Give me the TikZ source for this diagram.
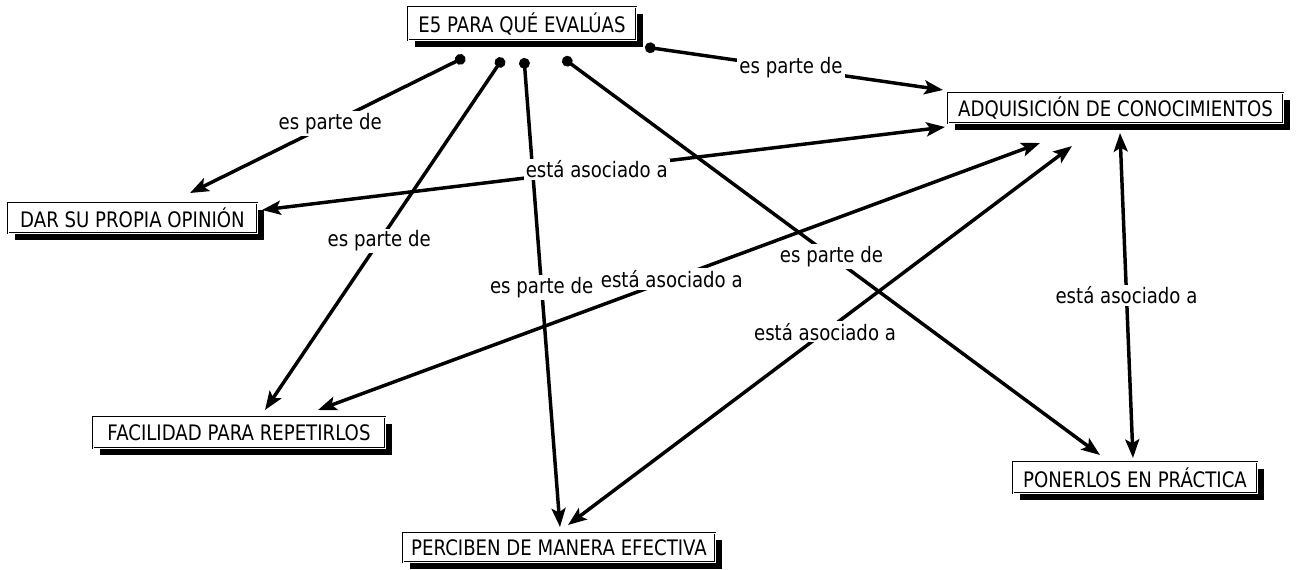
\documentclass[tikz,border=0pt]{standalone}
\usepackage{fontspec}
\setmainfont{DejaVu Sans}[FakeStretch=0.85]
\usetikzlibrary{arrows.meta,shadows}
\begin{document}
\begin{tikzpicture}[x=0.75pt,y=-0.75pt,
  concept/.style={draw=black, double=white, line width=0.5pt, double distance=0.6pt,
    fill=white, inner sep=0pt, align=center,
    font=\fontsize{16}{19}\selectfont,
    drop shadow={shadow xshift=5.5pt, shadow yshift=-5.5pt, fill=black, opacity=1}},
  link/.style={line width=2.6pt, {Circle[length=8pt]}-{Stealth[length=14pt,width=10.5pt,inset=3pt]}},
  assoc/.style={line width=2.6pt, {Stealth[length=14pt,width=10.5pt,inset=3pt]}-{Stealth[length=14pt,width=10.5pt,inset=3pt]}},
  lbl/.style={fill=white, inner sep=1.5pt, font=\fontsize{16}{19}\selectfont}
]
\useasboundingbox[fill=white] (0,0) rectangle (1299,569);

% concepts
\node[concept, minimum width=171pt, minimum height=24.75pt] (e5) at (522,23.5) {E5 PARA QUÉ EVALÚAS};
\node[concept, minimum width=251.25pt, minimum height=22.5pt] (adq) at (1115.5,108) {ADQUISICIÓN DE CONOCIMIENTOS};
\node[concept, minimum width=186.75pt, minimum height=22.5pt] (dar) at (132.5,218) {DAR SU PROPIA OPINIÓN};
\node[concept, minimum width=219pt, minimum height=23.25pt] (fac) at (239,432.5) {FACILIDAD PARA REPETIRLOS};
\node[concept, minimum width=234pt, minimum height=21.75pt] (per) at (559,547.5) {PERCIBEN DE MANERA EFECTIVA};
\node[concept, minimum width=183pt, minimum height=23.25pt] (pon) at (1135,477.5) {PONERLOS EN PRÁCTICA};

% connector end points
\coordinate (s1) at (645,47);  \coordinate (t1) at (943,90);
\coordinate (s2) at (465,57);  \coordinate (t2) at (190,193);
\coordinate (s3) at (503,58);  \coordinate (t3) at (265,410);
\coordinate (s4) at (524,58);  \coordinate (t4) at (560,527);
\coordinate (s5) at (563,58);  \coordinate (t5) at (1100,455);
\coordinate (a6) at (945,127); \coordinate (b6) at (262,210);
\coordinate (a7) at (1040,143);\coordinate (b7) at (318,410);
\coordinate (a8) at (1072,146);\coordinate (b8) at (568,525);
\coordinate (a9) at (1120,133);\coordinate (b9) at (1133,458);

% es parte de
\draw[link] (s1) -- node[lbl, pos=0.49] (l1) {es parte de} (t1);
\draw[link] (s2) -- node[lbl, pos=0.49] (l2) {es parte de} (t2);
\draw[link] (s3) -- node[lbl, pos=0.52] (l3) {es parte de} (t3);
\draw[link] (s4) -- node[lbl, pos=0.49] (l4) {es parte de} (t4);
\draw[link] (s5) -- node[lbl, pos=0.50] (l5) {es parte de} (t5);

% está asociado a
\draw[assoc] (a6) -- node[lbl, pos=0.51] (l6) {está asociado a} (b6);
\draw[assoc] (a7) -- node[lbl, pos=0.51] (l7) {está asociado a} (b7);
\draw[assoc] (a8) -- node[lbl, pos=0.49] (l8) {está asociado a} (b8);
\draw[assoc] (a9) -- node[lbl, pos=0.50] (l9) {está asociado a} (b9);
\end{tikzpicture}
\end{document}
